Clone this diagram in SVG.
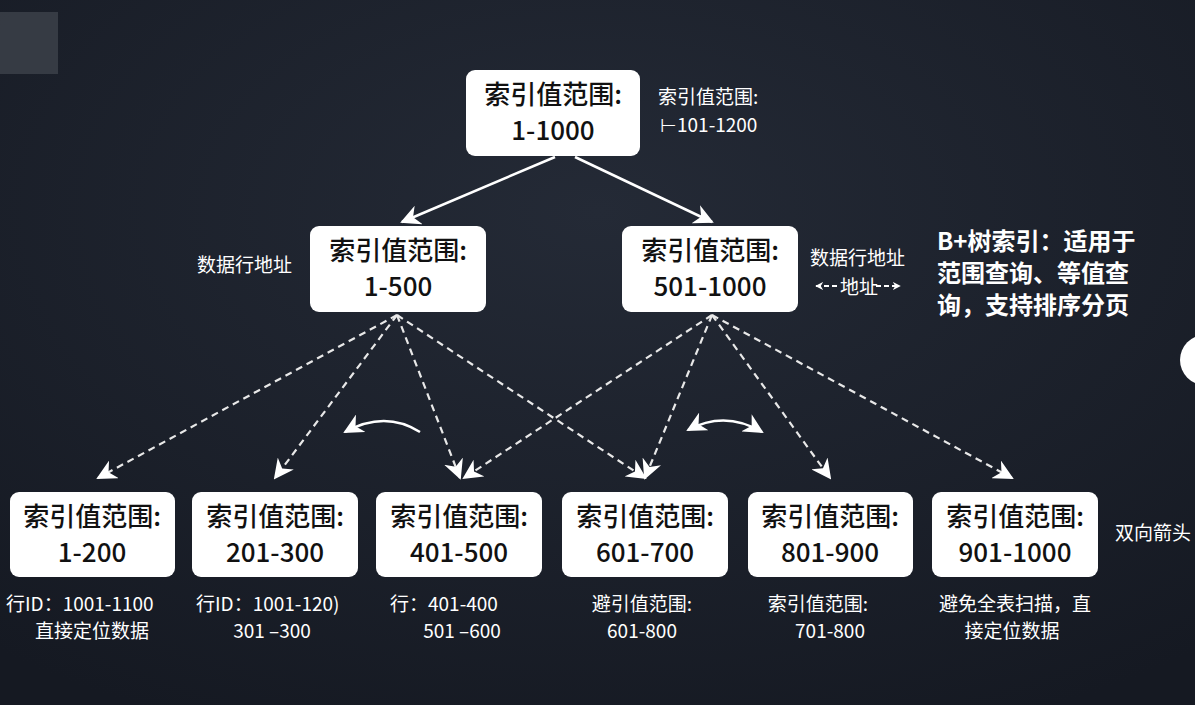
<svg xmlns="http://www.w3.org/2000/svg" width="1195" height="705" viewBox="0 0 1195 705">
<defs>
<radialGradient id="bg" cx="0.5" cy="0.3" r="0.8"><stop offset="0" stop-color="#242a36"/><stop offset="1" stop-color="#151922"/></radialGradient>
<marker id="ah" viewBox="0 0 10 10" refX="9" refY="5" markerWidth="8" markerHeight="8" markerUnits="userSpaceOnUse" orient="auto-start-reverse"><path d="M0,0 L10,5 L0,10 L3,5 z" fill="#fff"/></marker>
<marker id="ahb" viewBox="0 0 10 10" refX="9" refY="5" markerWidth="20" markerHeight="20" markerUnits="userSpaceOnUse" orient="auto-start-reverse"><path d="M0,0 L10,5 L0,10 L3,5 z" fill="#fff"/></marker>
</defs>
<style>
.n{fill:#fff;rx:9}
.t{font-family:"Noto Sans CJK SC","Liberation Sans",sans-serif;font-size:26px;font-weight:500;fill:#111;text-anchor:middle}
.s{font-family:"Noto Sans CJK SC","Liberation Sans",sans-serif;font-size:19px;fill:#fff}
.b{font-size:24px;font-weight:bold}
.c{text-anchor:middle}
.d{stroke:#e8e8e8;stroke-width:2.2;stroke-dasharray:7,5;fill:none;marker-end:url(#ahb)}
.l{stroke:#fff;stroke-width:2.5;fill:none}
</style>
<rect width="1195" height="705" fill="url(#bg)"/>
<rect x="0" y="12" width="58" height="62" fill="#4a4e56" opacity="0.6"/>
<circle cx="1205" cy="360" r="25" fill="#fff"/>
<g id="connectors">
<line class="l" x1="555" y1="157" x2="402" y2="222" marker-end="url(#ahb)"/>
<line class="l" x1="575" y1="157" x2="712" y2="222" marker-end="url(#ahb)"/>
<line class="d" x1="397" y1="315" x2="98" y2="478"/>
<line class="d" x1="397" y1="315" x2="275" y2="478"/>
<line class="d" x1="397" y1="315" x2="460" y2="478"/>
<line class="d" x1="397" y1="315" x2="645" y2="478"/>
<line class="d" x1="712" y1="315" x2="464" y2="478"/>
<line class="d" x1="712" y1="315" x2="645" y2="478"/>
<line class="d" x1="712" y1="315" x2="830" y2="478"/>
<line class="d" x1="712" y1="315" x2="1012" y2="478"/>
<path class="l" d="M420,432 Q385,410 345,432" marker-end="url(#ahb)"/>
<path class="l" d="M688,430 Q725,410 762,432" marker-start="url(#ahb)" marker-end="url(#ahb)"/>
<path d="M816,286 h22 M876,286 h24" stroke="#fff" stroke-width="2" stroke-dasharray="5,3" marker-start="url(#ah)" marker-end="url(#ah)"/>
</g>
<g id="root"><rect class="n" x="466" y="70" width="174" height="86"/><text class="t" x="553" y="104">索引值范围:</text><text class="t" x="553" y="140">1-1000</text></g>
<g id="l1a"><rect class="n" x="310" y="226" width="176" height="86"/><text class="t" x="398" y="260">索引值范围:</text><text class="t" x="398" y="296">1-500</text></g>
<g id="l1b"><rect class="n" x="622" y="226" width="176" height="86"/><text class="t" x="710" y="260">索引值范围:</text><text class="t" x="710" y="296">501-1000</text></g>
<g id="lf1"><rect class="n" x="10" y="492" width="165" height="85"/><text class="t" x="92" y="526">索引值范围:</text><text class="t" x="92" y="562">1-200</text></g>
<g id="lf2"><rect class="n" x="192" y="492" width="166" height="85"/><text class="t" x="275" y="526">索引值范围:</text><text class="t" x="275" y="562">201-300</text></g>
<g id="lf3"><rect class="n" x="376" y="492" width="166" height="85"/><text class="t" x="459" y="526">索引值范围:</text><text class="t" x="459" y="562">401-500</text></g>
<g id="lf4"><rect class="n" x="562" y="492" width="166" height="85"/><text class="t" x="645" y="526">索引值范围:</text><text class="t" x="645" y="562">601-700</text></g>
<g id="lf5"><rect class="n" x="748" y="492" width="165" height="85"/><text class="t" x="830" y="526">索引值范围:</text><text class="t" x="830" y="562">801-900</text></g>
<g id="lf6"><rect class="n" x="932" y="492" width="166" height="85"/><text class="t" x="1015" y="526">索引值范围:</text><text class="t" x="1015" y="562">901-1000</text></g>
<g id="labels">
<text class="s" x="658" y="104">索引值范围:</text>
<text class="s" x="660" y="132">⊢101-1200</text>
<text class="s" x="197" y="272">数据行地址</text>
<text class="s" x="810" y="265">数据行地址</text>
<text class="s" x="840" y="294">地址</text>
<text class="s b" x="937" y="250">B+树索引：适用于</text>
<text class="s b" x="937" y="282">范围查询、等值查</text>
<text class="s b" x="937" y="314">询，支持排序分页</text>
<text class="s" x="1115" y="540">双向箭头</text>
<text class="s" x="6" y="611">行ID：1001-1100</text>
<text class="s c" x="92" y="638">直接定位数据</text>
<text class="s" x="196" y="611">行ID：1001-120)</text>
<text class="s c" x="272" y="638">301 –300</text>
<text class="s" x="390" y="611">行：401-400</text>
<text class="s c" x="462" y="638">501 –600</text>
<text class="s c" x="642" y="611">避引值范围:</text>
<text class="s c" x="642" y="638">601-800</text>
<text class="s c" x="818" y="611">索引值范围:</text>
<text class="s c" x="830" y="638">701-800</text>
<text class="s c" x="1015" y="611">避免全表扫描，直</text>
<text class="s c" x="1012" y="638">接定位数据</text>
</g>
</svg>
